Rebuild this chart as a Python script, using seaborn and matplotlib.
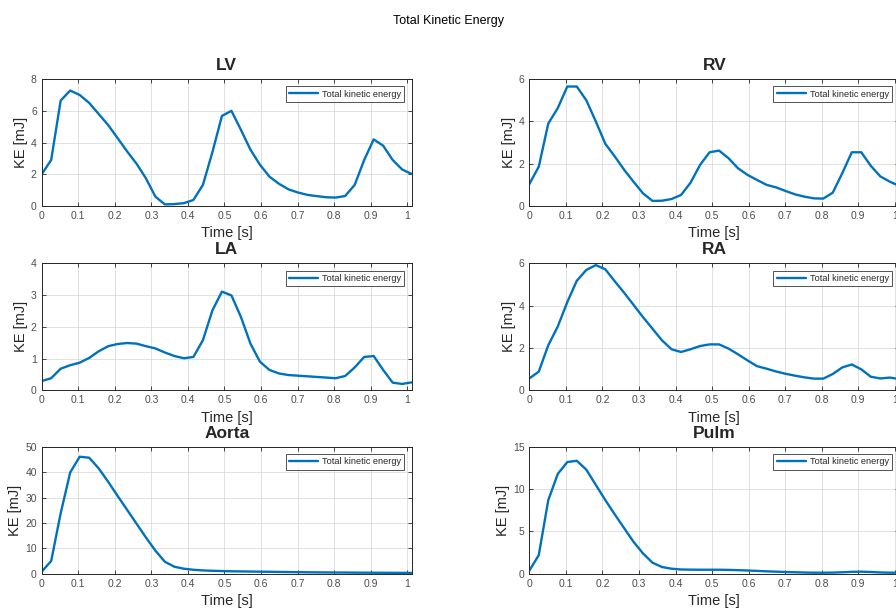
import numpy as np
import pandas as pd
import matplotlib
matplotlib.use('Agg')
import matplotlib.pyplot as plt
import seaborn as sns

# frame times [s]
time = [0.000, 0.026, 0.052, 0.078, 0.104, 0.130, 0.156, 0.182, 0.208, 0.234,
        0.260, 0.285, 0.311, 0.337, 0.363, 0.389, 0.415, 0.441, 0.467, 0.493,
        0.519, 0.545, 0.571, 0.597, 0.623, 0.649, 0.675, 0.701, 0.727, 0.753,
        0.779, 0.804, 0.830, 0.856, 0.882, 0.908, 0.934, 0.960, 0.986, 1.012]

# kinetic energy per region [mJ]
ke_lv = [2.0, 2.9, 6.65, 7.28, 7.0, 6.5, 5.8, 5.1, 4.27, 3.43,
         2.65, 1.75, 0.59, 0.1, 0.12, 0.18, 0.38, 1.33, 3.4, 5.68,
         6.0, 4.8, 3.55, 2.6, 1.85, 1.4, 1.05, 0.85, 0.7, 0.62,
         0.55, 0.53, 0.63, 1.33, 2.9, 4.2, 3.8, 2.9, 2.3, 2.02]
ke_rv = [1.03, 1.86, 3.9, 4.63, 5.65, 5.65, 5.0, 4.0, 2.94, 2.34,
         1.7, 1.15, 0.6, 0.24, 0.25, 0.33, 0.52, 1.1, 1.94, 2.54,
         2.62, 2.26, 1.78, 1.47, 1.23, 1.0, 0.88, 0.71, 0.55, 0.44,
         0.36, 0.35, 0.63, 1.55, 2.54, 2.54, 1.9, 1.4, 1.15, 0.95]
ke_la = [0.29, 0.38, 0.68, 0.79, 0.87, 1.02, 1.23, 1.39, 1.46, 1.49,
         1.47, 1.39, 1.32, 1.19, 1.08, 1.01, 1.05, 1.58, 2.52, 3.11,
         2.99, 2.31, 1.47, 0.9, 0.64, 0.53, 0.48, 0.46, 0.44, 0.42,
         0.4, 0.38, 0.45, 0.72, 1.05, 1.08, 0.64, 0.24, 0.2, 0.25]
ke_ra = [0.56, 0.88, 2.13, 3.02, 4.17, 5.18, 5.69, 5.92, 5.72, 5.15,
         4.6, 4.04, 3.46, 2.91, 2.36, 1.94, 1.81, 1.94, 2.09, 2.17,
         2.17, 1.97, 1.7, 1.41, 1.14, 1.02, 0.89, 0.78, 0.69, 0.61,
         0.55, 0.55, 0.77, 1.08, 1.22, 0.99, 0.64, 0.56, 0.6, 0.53]
ke_aorta = [0.8, 5.0, 23.8, 39.9, 46.1, 45.7, 41.5, 36.2, 30.6, 25.1,
            19.6, 14.3, 9.1, 4.7, 2.75, 1.97, 1.55, 1.3, 1.15, 1.05,
            0.95, 0.9, 0.85, 0.8, 0.75, 0.7, 0.65, 0.6, 0.55, 0.52,
            0.5, 0.47, 0.45, 0.42, 0.4, 0.38, 0.36, 0.35, 0.33, 0.32]
ke_pulm = [0.35, 2.2, 8.7, 11.8, 13.2, 13.35, 12.3, 10.5, 8.7, 7.0,
           5.35, 3.78, 2.4, 1.3, 0.79, 0.59, 0.5, 0.48, 0.47, 0.47,
           0.47, 0.45, 0.42, 0.38, 0.33, 0.28, 0.24, 0.2, 0.17, 0.14,
           0.12, 0.12, 0.13, 0.17, 0.22, 0.24, 0.2, 0.15, 0.12, 0.12]

regions = ["LV", "RV", "LA", "RA", "Aorta", "Pulm"]
series = [ke_lv, ke_rv, ke_la, ke_ra, ke_aorta, ke_pulm]
y_max = [8, 6, 4, 6, 50, 15]
y_step = [2, 2, 1, 2, 10, 5]
x_ticks = [0, 0.1, 0.2, 0.3, 0.4, 0.5, 0.6, 0.7, 0.8, 0.9, 1]
x_ticklabels = ["0", "0.1", "0.2", "0.3", "0.4", "0.5", "0.6", "0.7", "0.8", "0.9", "1"]

sns.set_theme(style="whitegrid")
plt.rcParams['font.family'] = ['Liberation Sans', 'DejaVu Sans']

fig = plt.figure(figsize=(8.96, 6.10), dpi=100)
fig.suptitle("Total Kinetic Energy", y=0.975, fontsize=9, color="#000000")

# axes layout (MATLAB style subplot grid, right column runs past the edge)
lefts = [0.0465, 0.5907]
bottoms = [0.6623, 0.3602, 0.0595]
w, h = 0.413, 0.208

for k, (name, vals) in enumerate(zip(regions, series)):
    row, col = divmod(k, 2)
    ax = fig.add_axes([lefts[col], bottoms[row], w, h])
    df = pd.DataFrame({"Time": time, "KE": vals})
    sns.lineplot(data=df, x="Time", y="KE", ax=ax, color="#0072BD",
                 linewidth=1.7, label="Total kinetic energy")
    ax.set_xlim(0, time[-1])
    ax.set_ylim(0, y_max[k])
    ax.set_xticks(x_ticks)
    ax.set_xticklabels(x_ticklabels)
    ax.set_yticks(np.arange(0, y_max[k] + 0.1, y_step[k]))
    ax.set_title(name, fontsize=12.5, fontweight="bold", pad=6.5)
    ax.set_xlabel("Time [s]", fontsize=10.5, color="#262626", labelpad=4)
    ax.set_ylabel("KE [mJ]", fontsize=10.5, color="#262626", labelpad=2)
    ax.tick_params(axis="both", labelsize=7.5, labelcolor="#4d4d4d",
                   direction="in", length=3, width=0.6, color="#262626",
                   top=True, right=True, bottom=True, left=True, pad=3.5)
    ax.grid(True, color="#dcdcdc", linewidth=0.6)
    for s in ax.spines.values():
        s.set_color("#262626")
        s.set_linewidth(0.7)
    leg = ax.legend(loc="upper right", fontsize=6.6, frameon=True, fancybox=False,
                    handlelength=3.2, borderpad=0.35, borderaxespad=0.8,
                    handletextpad=0.4)
    leg.get_frame().set_edgecolor("#262626")
    leg.get_frame().set_linewidth(0.7)

plt.savefig("out.png", dpi=100)
